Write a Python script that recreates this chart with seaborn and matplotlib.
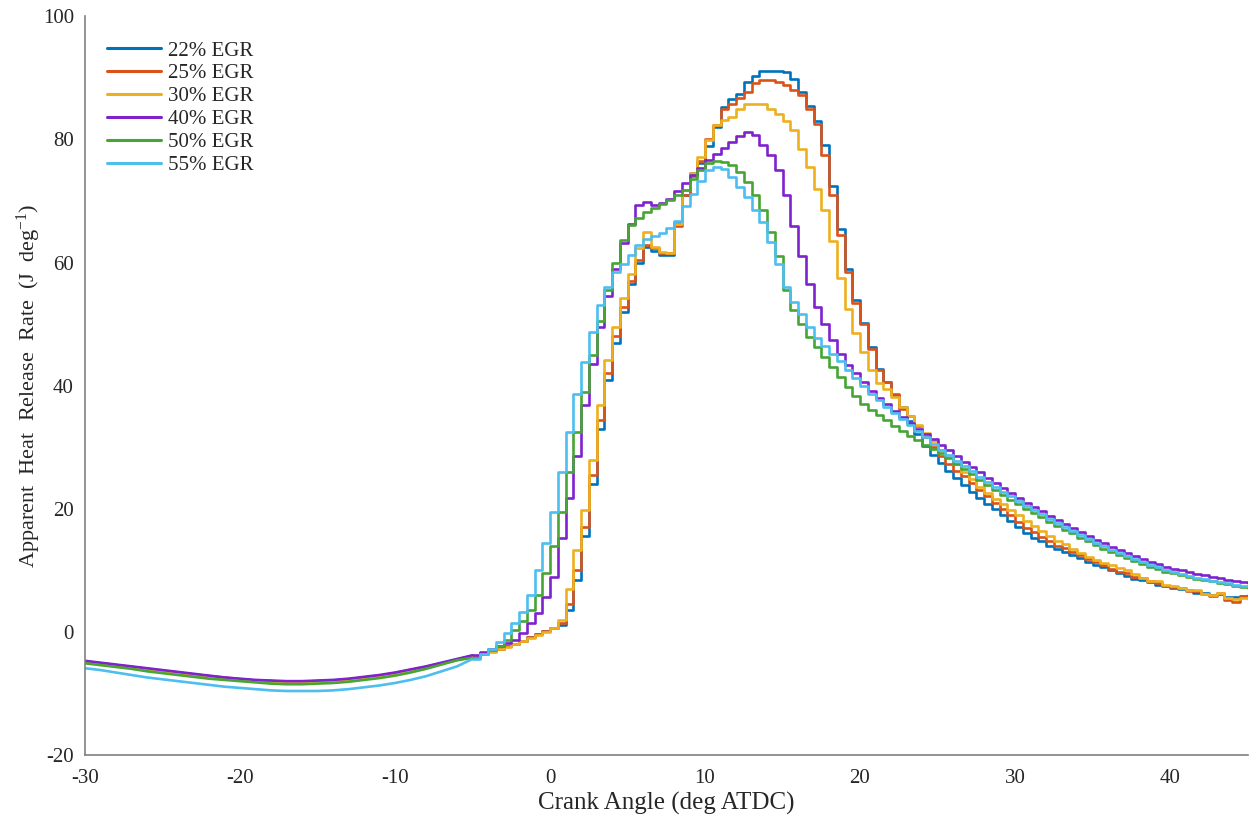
import matplotlib
matplotlib.use("Agg")
import numpy as np
import pandas as pd
import matplotlib.pyplot as plt
import seaborn as sns

# ---------------- data ----------------
crank_angle = [-30, -29, -28, -27, -26, -25, -24, -23, -22, -21, -20, -19, -18,
               -17, -16, -15, -14, -13, -12, -11, -10, -9, -8, -7, -6,
               -5.0, -4.5, -4.0, -3.5, -3.0, -2.5, -2.0, -1.5, -1.0, -0.5,
               0.0, 0.5, 1.0, 1.5, 2.0, 2.5, 3.0, 3.5, 4.0, 4.5,
               5.0, 5.5, 6.0, 6.5, 7.0, 7.5, 8.0, 8.5, 9.0, 9.5,
               10.0, 10.5, 11.0, 11.5, 12.0, 12.5, 13.0, 13.5, 14.0, 14.5,
               15.0, 15.5, 16.0, 16.5, 17.0, 17.5, 18.0, 18.5, 19.0, 19.5,
               20.0, 20.5, 21.0, 21.5, 22.0, 22.5, 23.0, 23.5, 24.0, 24.5,
               25.0, 25.5, 26.0, 26.5, 27.0, 27.5, 28.0, 28.5, 29.0, 29.5,
               30.0, 30.5, 31.0, 31.5, 32.0, 32.5, 33.0, 33.5, 34.0, 34.5,
               35.0, 35.5, 36.0, 36.5, 37.0, 37.5, 38.0, 38.5, 39.0, 39.5,
               40.0, 40.5, 41.0, 41.5, 42.0, 42.5, 43.0, 43.5, 44.0, 44.5,
               45.0]

hrr_22 = [-4.8, -5.1, -5.4, -5.7, -6.0, -6.3, -6.6, -6.9, -7.2, -7.5, -7.7, -7.9, -8.0,
          -8.1, -8.1, -8.0, -7.9, -7.7, -7.4, -7.1, -6.7, -6.2, -5.7, -5.1, -4.5,
          -3.9, -3.5, -3.1, -2.7, -2.3, -1.9, -1.4, -0.9, -0.4, 0.1,
          0.6, 1.2, 3.5, 8.5, 15.5, 24.0, 33.0, 41.0, 47.0, 52.0,
          56.5, 60.0, 62.5, 61.8, 61.2, 61.3, 66.5, 71.0, 74.5, 76.2,
          79.0, 82.0, 85.3, 86.6, 87.4, 89.3, 90.3, 91.2, 91.2, 91.1,
          91.0, 89.8, 87.7, 85.5, 83.0, 79.1, 72.5, 65.5, 59.0, 54.0,
          50.2, 46.3, 42.7, 40.6, 38.5, 36.5, 34.3, 32.2, 30.2, 28.8,
          27.5, 26.2, 25.0, 23.8, 22.8, 21.8, 20.8, 19.9, 19.0, 18.0,
          17.0, 16.0, 15.3, 14.7, 14.0, 13.5, 12.9, 12.5, 12.0, 11.4,
          10.9, 10.5, 10.0, 9.5, 9.1, 8.6, 8.4, 8.1, 7.6, 7.5,
          7.1, 7.0, 6.8, 6.4, 6.3, 6.0, 6.1, 5.6, 5.6, 5.9,
          5.6]

hrr_25 = [-4.8, -5.1, -5.4, -5.7, -6.0, -6.3, -6.6, -6.9, -7.2, -7.4, -7.7, -7.9, -8.0,
          -8.1, -8.1, -8.0, -7.9, -7.7, -7.4, -7.1, -6.7, -6.2, -5.7, -5.1, -4.5,
          -3.9, -3.5, -3.1, -2.7, -2.3, -1.9, -1.4, -0.9, -0.4, 0.1,
          0.6, 1.5, 4.5, 10.0, 17.0, 25.5, 34.5, 42.0, 48.0, 52.8,
          57.0, 60.5, 62.8, 62.3, 61.5, 61.6, 66.0, 71.0, 74.0, 76.5,
          80.0, 82.3, 85.0, 85.8, 86.8, 87.7, 89.1, 89.6, 89.6, 89.3,
          88.8, 88.0, 87.2, 85.0, 82.5, 77.4, 71.0, 64.5, 58.5, 53.5,
          50.0, 46.0, 42.5, 40.6, 38.7, 36.2, 35.0, 33.5, 31.6, 30.0,
          28.6, 27.3, 26.2, 25.4, 24.2, 23.0, 22.0, 21.0, 20.0, 19.0,
          17.9, 16.8, 16.2, 15.4, 14.8, 14.0, 13.6, 13.0, 12.5, 11.8,
          11.4, 10.9, 10.2, 9.8, 9.5, 8.9, 8.7, 8.2, 8.0, 7.5,
          7.3, 7.2, 6.7, 6.6, 6.1, 5.8, 6.3, 5.2, 4.9, 5.8,
          6.0]

hrr_30 = [-4.9, -5.2, -5.5, -5.8, -6.1, -6.4, -6.7, -7.0, -7.3, -7.5, -7.8, -8.0, -8.1,
          -8.2, -8.2, -8.1, -8.0, -7.8, -7.5, -7.2, -6.8, -6.3, -5.8, -5.2, -4.6,
          -4.0, -3.6, -3.2, -2.8, -2.4, -2.0, -1.5, -1.0, -0.5, 0.0,
          0.6, 1.9, 7.0, 13.3, 19.8, 27.9, 36.8, 44.2, 49.6, 54.2,
          58.2, 62.3, 65.0, 62.5, 61.7, 61.5, 66.3, 71.8, 74.5, 77.2,
          79.9, 82.3, 83.1, 83.7, 85.0, 85.8, 85.8, 85.8, 85.0, 84.2,
          83.0, 81.5, 78.5, 75.5, 72.0, 68.5, 63.5, 57.5, 52.5, 48.5,
          45.5, 42.5, 40.5, 39.4, 38.2, 36.6, 35.0, 33.6, 32.3, 31.0,
          29.6, 28.4, 27.2, 26.0, 24.8, 23.6, 22.6, 21.6, 20.8, 19.8,
          19.0, 18.0, 17.2, 16.4, 15.5, 14.8, 14.2, 13.4, 12.8, 12.2,
          11.7, 11.2, 10.8, 10.4, 10.1, 9.4, 8.8, 8.3, 8.2, 7.6,
          7.4, 7.2, 6.8, 6.8, 6.2, 6.0, 6.3, 5.5, 5.4, 5.5,
          5.3]

hrr_40 = [-4.7, -5.0, -5.3, -5.6, -5.9, -6.2, -6.5, -6.8, -7.1, -7.4, -7.6, -7.8, -7.9,
          -8.0, -8.0, -7.9, -7.8, -7.6, -7.3, -7.0, -6.6, -6.1, -5.6, -5.0, -4.4,
          -3.8, -3.3, -2.8, -2.3, -1.8, -1.3, -0.2, 1.4, 3.0, 5.7,
          9.0, 15.2, 21.7, 28.5, 36.9, 43.6, 49.5, 54.5, 59.0, 63.2,
          66.3, 69.4, 69.8, 69.4, 69.6, 70.3, 71.6, 73.0, 74.3, 75.4,
          76.6, 77.6, 78.6, 79.6, 80.5, 81.2, 80.7, 79.1, 77.4, 75.0,
          71.0, 66.0, 61.0, 56.6, 52.8, 50.1, 47.4, 45.2, 43.3, 42.0,
          40.6, 39.2, 38.0, 37.0, 35.9, 34.9, 33.9, 33.0, 32.2, 31.3,
          30.4, 29.5, 28.5, 27.6, 26.8, 25.9, 25.0, 24.2, 23.4, 22.6,
          21.8, 21.0, 20.3, 19.6, 18.9, 18.2, 17.5, 16.8, 16.2, 15.6,
          15.0, 14.4, 13.8, 13.3, 12.8, 12.3, 11.8, 11.4, 11.0, 10.6,
          10.3, 10.0, 9.7, 9.4, 9.2, 9.0, 8.7, 8.5, 8.3, 8.1,
          7.9]

hrr_50 = [-5.1, -5.4, -5.7, -6.0, -6.4, -6.7, -7.0, -7.3, -7.6, -7.8, -8.0, -8.2, -8.4,
          -8.5, -8.5, -8.4, -8.3, -8.1, -7.8, -7.5, -7.1, -6.6, -6.0, -5.3, -4.6,
          -4.2, -3.6, -3.0, -2.3, -1.3, 0.3, 1.8, 3.5, 6.0, 9.5,
          14.0, 19.5, 26.0, 32.5, 39.0, 45.0, 50.5, 55.5, 60.0, 63.6,
          66.1, 67.2, 68.2, 68.8, 69.5, 70.2, 71.0, 71.8, 73.6, 75.0,
          76.1, 76.5, 76.4, 75.8, 74.7, 73.1, 71.0, 68.5, 65.0, 61.0,
          55.5, 52.3, 50.1, 47.9, 46.3, 44.7, 43.1, 41.4, 39.8, 38.3,
          37.0, 36.0, 35.2, 34.4, 33.5, 32.7, 31.9, 31.1, 30.4, 29.7,
          29.0, 28.2, 27.3, 26.4, 25.6, 24.7, 23.9, 23.1, 22.3, 21.5,
          20.7, 20.0, 19.3, 18.6, 17.9, 17.2, 16.6, 16.0, 15.3, 14.7,
          14.1, 13.5, 13.0, 12.5, 12.0, 11.5, 11.0, 10.6, 10.2, 9.8,
          9.5, 9.2, 8.9, 8.6, 8.4, 8.2, 8.0, 7.8, 7.5, 7.3,
          7.1]

hrr_55 = [-5.9, -6.2, -6.6, -7.0, -7.4, -7.7, -8.0, -8.3, -8.6, -8.9, -9.1, -9.3, -9.5,
          -9.6, -9.6, -9.6, -9.5, -9.3, -9.0, -8.7, -8.3, -7.8, -7.2, -6.4, -5.6,
          -4.4, -3.6, -2.7, -1.6, -0.2, 1.4, 3.3, 6.0, 10.1, 14.4,
          19.5, 26.0, 32.5, 38.7, 43.9, 48.7, 53.1, 56.1, 58.5, 59.8,
          61.3, 62.8, 63.8, 64.3, 64.8, 65.6, 66.8, 69.2, 71.2, 73.2,
          75.0, 75.6, 75.2, 73.9, 72.3, 70.6, 68.6, 66.6, 63.3, 59.8,
          56.1, 53.6, 51.6, 49.5, 47.8, 46.4, 45.2, 44.0, 42.6, 41.3,
          40.0, 38.7, 37.6, 36.6, 35.6, 34.6, 33.6, 32.6, 31.6, 30.6,
          29.6, 28.7, 27.8, 26.9, 26.1, 25.2, 24.4, 23.6, 22.8, 22.0,
          21.2, 20.5, 19.8, 19.1, 18.4, 17.7, 17.0, 16.4, 15.7, 15.1,
          14.5, 13.9, 13.3, 12.8, 12.3, 11.8, 11.3, 10.9, 10.5, 10.1,
          9.8, 9.4, 9.1, 8.8, 8.6, 8.3, 8.1, 7.9, 7.7, 7.5,
          7.4]

case_labels = ["22% EGR", "25% EGR", "30% EGR", "40% EGR", "50% EGR", "55% EGR"]
case_colors = ["#0072BD", "#D95319", "#EDB120", "#7E22CE", "#47A534", "#4DBEEE"]
x_ticks = [-30, -20, -10, 0, 10, 20, 30, 40]
y_ticks = [-20, 0, 20, 40, 60, 80, 100]
step_start = -5.0   # below this angle the traces are smooth, above they are stair-stepped

# ---------------- build long table ----------------
series = [hrr_22, hrr_25, hrr_30, hrr_40, hrr_50, hrr_55]
df = pd.concat(
    [pd.DataFrame({"angle": crank_angle, "hrr": s, "case": lab})
     for s, lab in zip(series, case_labels)],
    ignore_index=True,
)
df_smooth = df[df["angle"] <= step_start]
df_step = df[df["angle"] >= step_start]

# ---------------- style ----------------
sns.set_theme(style="white")
plt.rcParams["font.family"] = ["Liberation Serif", "DejaVu Serif"]
plt.rcParams["mathtext.fontset"] = "custom"
plt.rcParams["mathtext.rm"] = "Liberation Serif"
plt.rcParams["mathtext.it"] = "Liberation Serif:italic"
plt.rcParams["axes.unicode_minus"] = False

fig = plt.figure(figsize=(12.5, 8.18), dpi=100)
ax = fig.add_axes([0.068, 0.077, 0.930, 0.903])

sns.lineplot(data=df_smooth, x="angle", y="hrr", hue="case", hue_order=case_labels,
             palette=case_colors, estimator=None, sort=False,
             linewidth=1.9, ax=ax, legend=False)
sns.lineplot(data=df_step, x="angle", y="hrr", hue="case", hue_order=case_labels,
             palette=case_colors, estimator=None, sort=False,
             drawstyle="steps-post", linewidth=1.9, ax=ax)

ax.set_xlim(-30, 45)
ax.set_ylim(-20, 100)
ax.set_xticks(x_ticks)
ax.set_yticks(y_ticks)

for side in ["top", "right"]:
    ax.spines[side].set_visible(False)
for side in ["left", "bottom"]:
    ax.spines[side].set_color("#808080")
    ax.spines[side].set_linewidth(1.2)

ax.tick_params(axis="both", direction="in", length=9, width=1.0,
               color="#808080", labelsize=15, labelcolor="#262626")
ax.tick_params(axis="x", pad=10)
ax.tick_params(axis="y", pad=8)

ax.set_xlabel("Crank Angle (deg ATDC)", fontsize=18, color="#262626", labelpad=3)
ax.set_ylabel(r"Apparent  Heat  Release  Rate  (J  deg$^{\mathregular{-1}}$)",
              fontsize=16, color="#262626", labelpad=0)

handles, labs = ax.get_legend_handles_labels()
pairs = [(h, l) for h, l in zip(handles, labs) if l in case_labels]
leg = ax.legend([p[0] for p in pairs], [p[1] for p in pairs], loc="upper left",
                bbox_to_anchor=(0.012, 0.978), frameon=False, fontsize=15,
                handlelength=2.6, handletextpad=0.3, labelspacing=0.16,
                borderaxespad=0.0)
for line in leg.get_lines():
    line.set_linewidth(2.2)

fig.savefig("out.png", dpi=100, facecolor="white")
